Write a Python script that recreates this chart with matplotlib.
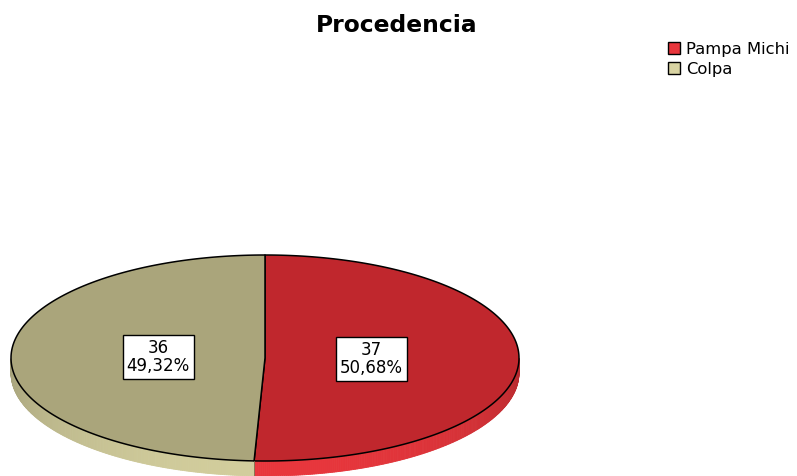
import numpy as np
import matplotlib.pyplot as plt
from matplotlib.patches import Polygon, Patch
import matplotlib.colors as mcolors

# data
categories = ['Pampa Michi', 'Colpa']
counts = [37, 36]
top_colors = ['#c0272d', '#aaa57b']
side_colors = ['#e8363c', '#d2cd9c']
legend_colors = ['#e8363c', '#d8d3a2']

total = sum(counts)
pcts = [100.0 * c / total for c in counts]

# ellipse geometry in pixels (y grows downward)
cx, cy = 265, 358
rx, ry = 254, 103
depth = 15

fig = plt.figure(figsize=(7.97, 4.76), dpi=100)
ax = fig.add_axes([0, 0, 1, 1])
ax.set_xlim(0, 797)
ax.set_ylim(476, 0)
ax.axis('off')


def ell(t):
    t = np.radians(t)
    return cx + rx * np.cos(t), cy - ry * np.sin(t)


# angles: start at 90 deg, go clockwise
start = 90.0
wedges = []
for c in counts:
    span = 360.0 * c / total
    wedges.append((start - span, start))
    start -= span

# sides (only lower half visible)
for (a0, a1), col in zip(wedges, side_colors):
    ts = np.linspace(a0, a1, 400)
    ts = ((ts + 180) % 360) - 180
    ts = ts[ts <= 0]
    if len(ts) < 2:
        continue
    ts = np.sort(ts)
    base = np.array(mcolors.to_rgb(col))
    for i in range(len(ts) - 1):
        t0, t1 = ts[i], ts[i + 1]
        f = 0.78 + 0.22 * abs(np.sin(np.radians((t0 + t1) / 2)))
        x0, y0 = ell(t0)
        x1, y1 = ell(t1)
        quad = [(x0, y0), (x1, y1), (x1, y1 + depth), (x0, y0 + depth)]
        shade = np.clip(base * f, 0, 1)
        ax.add_patch(Polygon(quad, closed=True, facecolor=shade,
                             edgecolor=shade, linewidth=0.6))

# side boundary line
x, y = ell(wedges[0][0])
ax.plot([x, x], [y, y + depth], color='#7a6f50', lw=0.6)

# top surface
for (a0, a1), col in zip(wedges, top_colors):
    ts = np.linspace(a0, a1, 300)
    xs, ys = ell(ts)
    pts = [(cx, cy)] + list(zip(xs, ys))
    ax.add_patch(Polygon(pts, closed=True, facecolor=col, edgecolor='black',
                         linewidth=1.1, joinstyle='round'))

# labels
for (a0, a1), c, p in zip(wedges, counts, pcts):
    mid = (a0 + a1) / 2
    x, y = ell(mid)
    lx = cx + 0.42 * (x - cx)
    ly = cy + 0.42 * (y - cy)
    txt = f"{c}\n{p:.2f}%".replace('.', ',')
    ax.text(lx, ly, txt, ha='center', va='center', fontsize=12,
            linespacing=1.0,
            bbox=dict(boxstyle='square,pad=0.25', facecolor='white',
                      edgecolor='black', linewidth=1))

ax.text(397, 25, 'Procedencia', ha='center', va='center',
        fontsize=16.8, fontweight='bold')

handles = [Patch(facecolor=lc, edgecolor='black', linewidth=1) for lc in legend_colors]
ax.legend(handles, categories, loc='upper left',
          bbox_to_anchor=(668 / 797, 1 - 42 / 476), frameon=False,
          fontsize=11.8, handlelength=0.75, handleheight=0.75,
          handletextpad=0.35, labelspacing=0.3, borderpad=0, borderaxespad=0)

fig.savefig('out.png', dpi=100)
